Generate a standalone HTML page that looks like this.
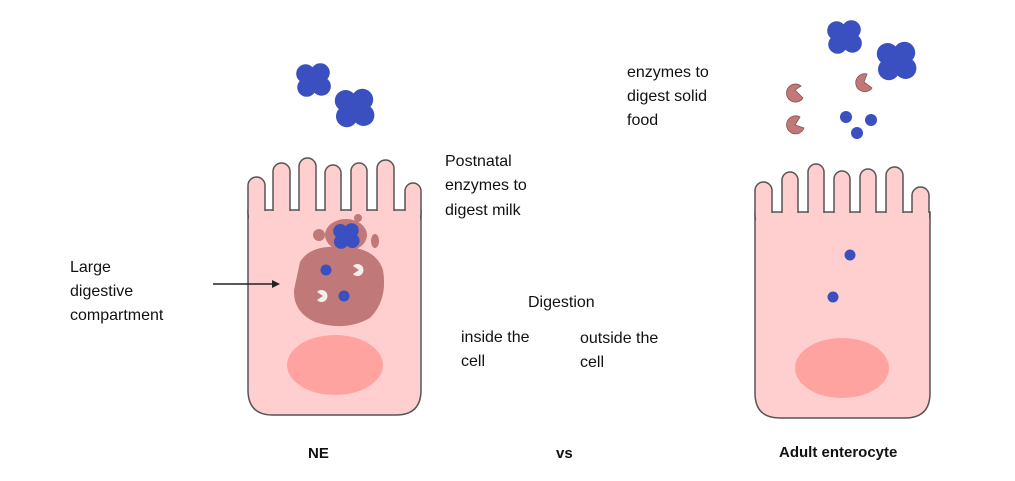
<!DOCTYPE html>
<html><head><meta charset="utf-8"><style>
body{margin:0;background:#fff;}
svg{display:block;}
text{font-family:"Liberation Sans",sans-serif;font-size:16px;fill:#111;}
</style></head><body>
<svg width="1015" height="481" viewBox="0 0 1015 481" xmlns="http://www.w3.org/2000/svg">
<defs>
<g id="blob">
<circle cx="-7" cy="-6" r="9"/><circle cx="7" cy="-7" r="9"/><circle cx="8" cy="6" r="9"/><circle cx="-6" cy="7" r="9"/><circle cx="0" cy="0" r="11"/>
</g>
</defs>
<rect width="1015" height="481" fill="#fff"/>

<!-- LEFT CELL -->
<g fill="#ffcfcf" stroke="#555" stroke-width="1.5">
<path d="M248 210 L248 390 Q248 415 273 415 L396 415 Q421 415 421 390 L421 210 Z"/>
<rect x="248" y="177" width="17" height="45" rx="8.5"/>
<rect x="273" y="163" width="17" height="59" rx="8.5"/>
<rect x="299" y="158" width="17" height="64" rx="8.5"/>
<rect x="325" y="165" width="16" height="57" rx="8"/>
<rect x="351" y="163" width="16" height="59" rx="8"/>
<rect x="377" y="160" width="17" height="62" rx="8.5"/>
<rect x="405" y="183" width="16" height="39" rx="8"/>
</g>
<rect x="249" y="211" width="171" height="14" fill="#ffcfcf"/>
<ellipse cx="335" cy="365" rx="48" ry="30" fill="#ffa3a0"/>
<path d="M300 262 Q310 245 340 247 Q375 246 383 270 Q388 300 370 318 Q345 332 315 322 Q293 312 294 290 Z" fill="#c07878"/>
<ellipse cx="346" cy="235" rx="21" ry="16" fill="#c07878"/>
<circle cx="319" cy="235" r="6" fill="#c07878"/>
<ellipse cx="375" cy="241" rx="4" ry="7" fill="#c07878"/>
<circle cx="358" cy="218" r="4" fill="#c07878"/>
<g fill="#3a4fc0"><use href="#blob" transform="translate(346,236) scale(0.8)"/></g>
<circle cx="326" cy="270" r="5.5" fill="#3a4fc0"/>
<circle cx="344" cy="296" r="5.5" fill="#3a4fc0"/>
<path d="M359 270 L365 266 A6 6 0 1 0 365 274 Z" fill="#f2eeee" transform="rotate(180 359 270)"/>
<path d="M323 296 L329 292 A6 6 0 1 0 329 300 Z" fill="#f2eeee" transform="rotate(180 323 296)"/>
<line x1="213" y1="284" x2="274" y2="284" stroke="#222" stroke-width="1.5"/>
<path d="M280 284 L272 280 L272 288 Z" fill="#222"/>
<g fill="#3a4fc0"><use href="#blob" transform="translate(313,80) scale(1.05)"/><use href="#blob" transform="translate(354,108) scale(1.2)"/></g>

<!-- RIGHT CELL -->
<g fill="#ffcfcf" stroke="#555" stroke-width="1.5">
<path d="M755 212 L755 393 Q755 418 780 418 L905 418 Q930 418 930 393 L930 212 Z"/>
<rect x="755" y="182" width="17" height="42" rx="8.5"/>
<rect x="782" y="172" width="16" height="52" rx="8"/>
<rect x="808" y="164" width="16" height="60" rx="8"/>
<rect x="834" y="171" width="16" height="53" rx="8"/>
<rect x="860" y="169" width="16" height="55" rx="8"/>
<rect x="886" y="167" width="17" height="57" rx="8.5"/>
<rect x="912" y="187" width="17" height="37" rx="8.5"/>
</g>
<rect x="756" y="213" width="173" height="14" fill="#ffcfcf"/>
<ellipse cx="842" cy="368" rx="47" ry="30" fill="#ffa3a0"/>
<circle cx="850" cy="255" r="5.5" fill="#3a4fc0"/>
<circle cx="833" cy="297" r="5.5" fill="#3a4fc0"/>
<g fill="#3a4fc0"><use href="#blob" transform="translate(844,37) scale(1.05)"/><use href="#blob" transform="translate(896,61) scale(1.2)"/></g>
<g fill="#c07878" stroke="#8a5050" stroke-width="0.8">
<path d="M795 90 L803 98 A9 9 0 1 1 801 86 Z"/>
<path d="M795 125 L804 128 A9 9 0 1 1 800 117 Z"/>
<path d="M864 82 L872 88 A9 9 0 1 1 867 74 Z"/>
</g>
<g fill="#3a4fc0"><circle cx="846" cy="117" r="6"/><circle cx="871" cy="120" r="6"/><circle cx="857" cy="133" r="6"/></g>

<!-- TEXT -->
<text x="70" y="272">Large</text>
<text x="70" y="296">digestive</text>
<text x="70" y="320">compartment</text>
<text x="445" y="166">Postnatal</text>
<text x="445" y="190">enzymes to</text>
<text x="445" y="215">digest milk</text>
<text x="627" y="77">enzymes to</text>
<text x="627" y="101">digest solid</text>
<text x="627" y="125">food</text>
<text x="528" y="307">Digestion</text>
<text x="461" y="342">inside the</text>
<text x="461" y="366">cell</text>
<text x="580" y="343">outside the</text>
<text x="580" y="367">cell</text>
<text x="308" y="458" style="font-weight:bold;font-size:15px">NE</text>
<text x="556" y="458" style="font-weight:bold;font-size:15px">vs</text>
<text x="779" y="457" style="font-weight:bold;font-size:15px">Adult enterocyte</text>
</svg>
</body></html>
